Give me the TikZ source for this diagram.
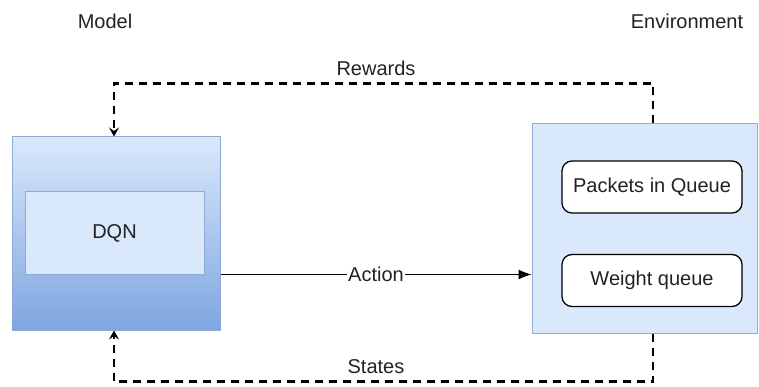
\documentclass[tikz,border=0pt]{standalone}
\usepackage{fontspec}
\setmainfont{Liberation Sans}
\usetikzlibrary{positioning,arrows.meta}

\definecolor{paleblue}{HTML}{DAE8FC}
\definecolor{deepblue}{HTML}{7EA6E0}
\definecolor{edgeblue}{HTML}{8FAAD6}
\definecolor{inkgray}{HTML}{222222}

\begin{document}
\begin{tikzpicture}[x=1pt, y=-1pt, font=\fontsize{20}{24}\selectfont, text=inkgray,
	block/.style={rectangle, draw=edgeblue, line width=1pt, inner sep=0pt},
	queuebox/.style={rectangle, draw=black, fill=white, line width=1.3pt, rounded corners=10, minimum width=180, minimum height=52, inner sep=0pt},
	feedback/.style={-{Stealth[length=9pt, width=10pt, inset=3.5pt]}, line width=2.3pt, dash pattern=on 8pt off 6pt},
	action/.style={-{Latex[length=13pt, width=10pt]}, line width=1pt}]

	\useasboundingbox (0,0) rectangle (759,387);

	\node at (105,21) (modeltitle) {Model};
	\node at (687,21) (envtitle) {Environment};

	\node[block, top color=paleblue, bottom color=deepblue, minimum width=208, minimum height=193] at (116,233.5) (modelbox) {};
	\node[block, fill=paleblue, minimum width=179, minimum height=82] at (114.5,233) (dqn) {DQN};

	\node[block, fill=paleblue, minimum width=225, minimum height=209] at (644.5,228.5) (envbox) {};
	\node[queuebox] at (652,187) (packets) {Packets in Queue};
	\node[queuebox] at (652,280.5) (weightqueue) {Weight queue};

	\node at (376,68) (rewards) {Rewards};
	\node at (376,367) (states) {States};

	\draw[action] (modelbox.east |- dqn.south) -- node[fill=white, inner sep=1pt] (actionlabel) {Action} (envbox.west |- dqn.south);

	\draw[feedback] ([xshift=8.5]envbox.north) -- ++(0,-40) -| ([xshift=-2]modelbox.north);
	\draw[feedback] ([xshift=8.5]envbox.south) -- ++(0,48) -| ([xshift=-2]modelbox.south);
\end{tikzpicture}
\end{document}
